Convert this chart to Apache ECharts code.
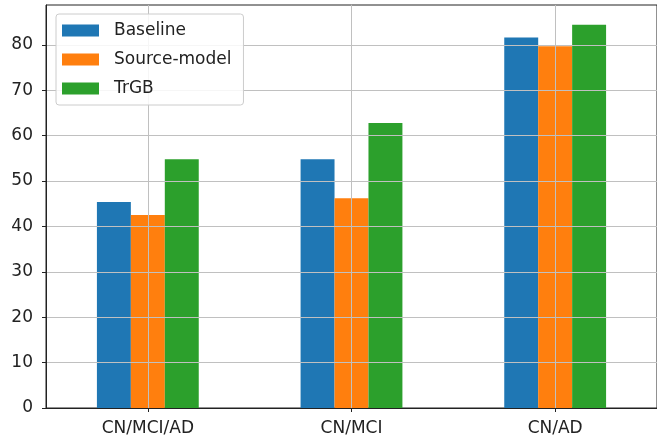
<!DOCTYPE html>
<html>
<head>
<meta charset="utf-8">
<script src="https://cdn.jsdelivr.net/npm/echarts@6/dist/echarts.min.js"></script>
<style>
html,body{margin:0;padding:0;background:#fff;}
#chart{width:657px;height:442px;}
</style>
</head>
<body>
<div id="chart"></div>
<script>
const categories = ['CN/MCI/AD', 'CN/MCI', 'CN/AD'];
const seriesNames = ['Baseline', 'Source-model', 'TrGB'];
const baseline = [45.4, 54.8, 81.6];
const sourceModel = [42.5, 46.2, 79.7];
const trgb = [54.8, 62.8, 84.4];
const yTicks = [0, 10, 20, 30, 40, 50, 60, 70, 80];
const colors = ['#1f77b4', '#ff7f0e', '#2ca02c'];

const font = 'DejaVu Sans';
const chart = echarts.init(document.getElementById('chart'));
const values = [baseline, sourceModel, trgb];
chart.setOption({
  animation: false,
  grid: {
    left: 46, right: -5, top: 5, bottom: 34,
    show: true, borderColor: '#222', borderWidth: 1, backgroundColor: 'transparent'
  },
  legend: {
    orient: 'vertical',
    left: 56, top: 14,
    z: 20,
    padding: [8, 12, 8, 6],
    itemWidth: 37, itemHeight: 12, itemGap: 12,
    borderColor: '#cccccc', borderWidth: 1, borderRadius: 3,
    backgroundColor: 'rgba(255,255,255,0.85)',
    icon: 'rect',
    textStyle: { fontFamily: font, fontSize: 17, color: '#222', padding: [0, 0, 0, 10] },
    data: seriesNames
  },
  xAxis: {
    type: 'category',
    data: categories,
    z: 5,
    axisLine: { show: true, lineStyle: { color: '#222', width: 1 } },
    axisTick: { show: true, alignWithLabel: true, length: 4, lineStyle: { color: '#222' } },
    axisLabel: { fontFamily: font, fontSize: 17, color: '#222', margin: 12 },
    splitLine: { show: true, alignWithLabel: true, lineStyle: { color: '#c0c0c0', width: 1 } }
  },
  yAxis: {
    type: 'value',
    min: 0, max: 88.77, interval: 10,
    z: 5,
    axisLine: { show: true, lineStyle: { color: '#222', width: 1 } },
    axisTick: { show: true, length: 4, lineStyle: { color: '#222' }, customValues: yTicks },
    axisLabel: { fontFamily: font, fontSize: 17, color: '#222', margin: 13, customValues: yTicks },
    splitLine: { show: true, lineStyle: { color: '#c0c0c0', width: 1 } }
  },
  series: seriesNames.map((name, i) => ({
    name: name,
    type: 'bar',
    data: values[i],
    barGap: '0%',
    barCategoryGap: '50%',
    itemStyle: { color: colors[i] }
  }))
});
</script>
</body>
</html>
